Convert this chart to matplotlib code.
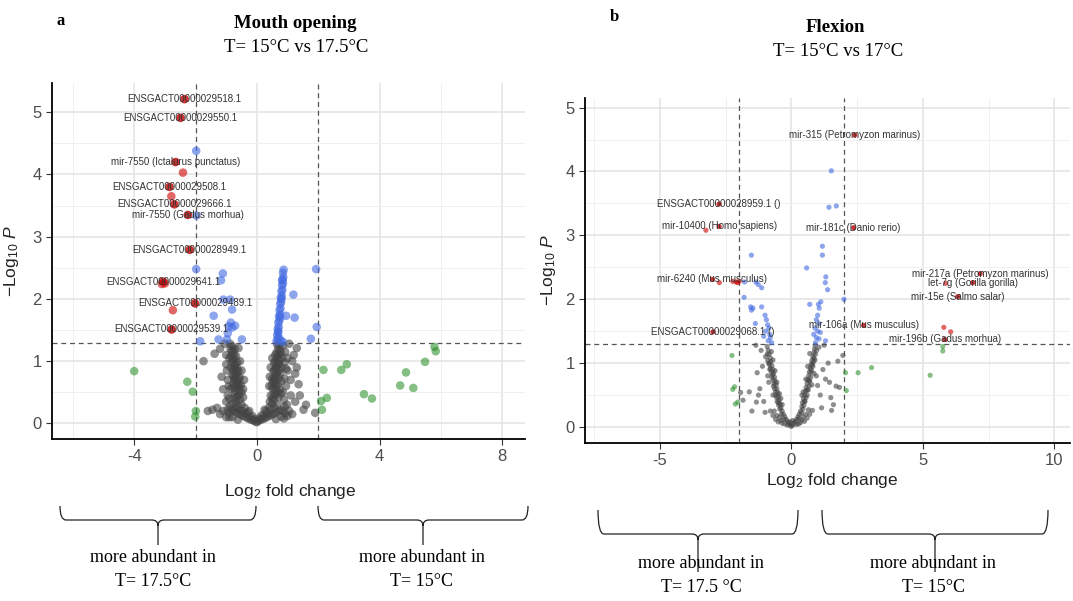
import matplotlib.pyplot as plt
from matplotlib.path import Path
from matplotlib.patches import PathPatch
from matplotlib.ticker import MultipleLocator

plt.rcParams['font.family'] = ['Liberation Sans', 'DejaVu Sans']
plt.rcParams['mathtext.fontset'] = 'custom'
plt.rcParams['mathtext.rm'] = 'Liberation Sans'
plt.rcParams['mathtext.it'] = 'Liberation Sans:italic'
plt.rcParams['axes.unicode_minus'] = False

# ---------------- panel a : mouth opening ----------------
a_grey = [(0.00, 0.02), (-0.05, 0.03), (0.05, 0.04), (-0.12, 0.05), (0.12, 0.06), (-0.2, 0.06), (0.2, 0.07),
          (-0.28, 0.08), (0.28, 0.09), (-0.36, 0.10), (0.36, 0.11), (-0.45, 0.12), (0.44, 0.13), (-0.52, 0.14),
          (0.52, 0.15), (-0.6, 0.16), (0.6, 0.17), (-0.68, 0.18), (0.68, 0.19), (-0.76, 0.2), (0.76, 0.21),
          (-0.84, 0.22), (0.84, 0.2), (-0.92, 0.17), (0.92, 0.16), (-0.15, 0.12), (0.15, 0.13), (-0.3, 0.18),
          (0.3, 0.2), (-0.4, 0.25), (0.4, 0.26), (-0.5, 0.3), (0.5, 0.32), (-0.62, 0.06), (0.62, 0.07),
          (-0.8, 0.1), (0.8, 0.11), (-0.25, 0.2), (0.25, 0.22),
          (-0.62, 0.28), (-0.58, 0.22), (-0.48, 0.2), (-0.38, 0.16), (-0.22, 0.1), (-0.08, 0.07), (0.08, 0.08),
          (0.22, 0.12), (0.34, 0.16), (0.46, 0.22), (0.58, 0.25), (0.66, 0.3), (-0.7, 0.25), (-0.78, 0.32),
          (-0.88, 0.28), (-0.95, 0.22), (0.9, 0.27), (0.98, 0.3), (-1.0, 0.1), (1.0, 0.12), (-1.1, 0.2),
          (1.15, 0.15), (-0.9, 0.1), (0.88, 0.08),
          (-0.55, 0.38), (-0.6, 0.45), (-0.58, 0.52), (-0.65, 0.58), (-0.62, 0.66), (-0.7, 0.72), (-0.66, 0.8),
          (-0.72, 0.88), (-0.7, 0.95), (-0.78, 1.02), (-0.74, 1.1), (-0.82, 1.16), (-0.8, 1.24), (-0.5, 0.5),
          (-0.52, 0.62), (-0.56, 0.74), (-0.6, 0.84), (-0.64, 0.98), (-0.68, 1.08), (-0.72, 1.2), (-0.88, 1.28),
          (-0.85, 0.9), (-0.8, 0.78), (-0.76, 0.64), (-0.72, 0.48), (-0.68, 0.35), (-0.9, 1.05), (-0.95, 0.7),
          (-0.45, 0.42), (-0.86, 0.56),
          (-0.66, 0.42), (-0.74, 0.4), (-0.7, 0.52), (-0.78, 0.58), (-0.66, 0.62), (-0.74, 0.7), (-0.68, 0.68),
          (-0.76, 0.76), (-0.7, 0.8), (-0.78, 0.86), (-0.74, 0.92), (-0.82, 0.98), (-0.76, 1.04), (-0.84, 1.08),
          (-0.78, 1.16), (-0.86, 1.2), (-0.58, 0.6), (-0.6, 0.72), (-0.64, 0.88),
          (-0.45, 0.55), (-0.42, 0.7), (-0.5, 0.85), (-0.55, 1.0), (-0.9, 0.4), (-0.92, 0.6), (-0.98, 0.85),
          (-1.0, 0.95),
          (0.5, 0.4), (0.55, 0.48), (0.52, 0.56), (0.6, 0.62), (0.56, 0.7), (0.62, 0.78), (0.58, 0.86),
          (0.65, 0.92), (0.6, 1.0), (0.68, 1.06), (0.64, 1.14), (0.7, 1.2), (0.66, 1.27), (0.45, 0.45),
          (0.48, 0.6), (0.5, 0.72), (0.54, 0.84), (0.56, 0.98), (0.6, 1.1), (0.72, 0.95), (0.76, 0.8),
          (0.78, 1.12), (0.8, 0.68), (0.74, 0.55), (0.7, 0.42), (0.85, 1.25), (0.9, 0.98), (0.95, 0.6),
          (0.42, 0.35), (0.88, 0.38),
          (0.6, 0.45), (0.66, 0.5), (0.62, 0.55), (0.68, 0.62), (0.64, 0.68), (0.7, 0.74), (0.66, 0.82),
          (0.72, 0.86), (0.68, 0.96), (0.74, 1.02), (0.7, 1.1), (0.76, 1.16), (0.74, 1.25), (0.58, 0.74),
          (0.62, 0.9), (0.52, 0.66), (0.8, 0.9), (0.82, 1.05), (0.55, 0.38), (0.78, 0.48),
          (0.4, 0.6), (0.42, 0.75), (0.45, 0.9), (0.5, 1.05), (0.85, 0.5), (0.9, 0.72), (0.95, 0.88),
          (1.0, 1.05), (0.92, 1.15),
          (-1.74, 1.0), (-1.38, 1.12), (-1.05, 1.28), (-0.6, 1.21), (-1.2, 1.2), (-1.0, 1.1), (-1.1, 0.55),
          (-1.15, 0.75), (-1.3, 0.25), (-1.45, 0.22), (-1.2, 0.15), (-1.0, 0.35), (-0.95, 0.45), (-1.6, 0.2),
          (1.3, 1.21), (1.05, 1.28), (1.2, 1.1), (1.36, 0.63), (1.3, 0.9), (1.25, 0.8), (1.52, 0.22),
          (1.9, 0.17), (1.25, 0.35), (1.1, 0.45), (1.4, 0.45), (1.0, 0.85), (1.1, 0.7), (1.15, 1.0),
          (1.6, 0.3), (1.05, 0.2)]
a_green = [(-4.0, 0.84), (-2.27, 0.67), (-2.09, 0.51), (-1.99, 0.20), (-2.01, 0.11), (2.17, 0.86),
           (2.75, 0.86), (2.93, 0.95), (2.28, 0.41), (2.09, 0.36), (2.12, 0.22), (3.49, 0.47), (3.75, 0.40),
           (4.67, 0.61), (5.10, 0.57), (4.86, 0.82), (5.48, 0.99), (5.79, 1.23), (5.83, 1.16)]
a_blue = [(-1.98, 4.38), (-1.97, 3.34), (-1.98, 2.48), (-1.11, 2.41), (-1.17, 2.30), (-1.41, 1.73),
          (-0.87, 1.99), (-1.09, 1.99), (-0.81, 1.83), (-0.92, 1.56), (-0.81, 1.54), (-0.71, 1.57),
          (-1.25, 1.35), (-0.98, 1.35), (-0.49, 1.35), (-1.85, 1.32), (-0.95, 1.45), (-0.85, 1.62),
          (0.87, 2.47), (0.85, 2.42), (0.86, 2.35), (0.84, 2.31), (0.85, 2.25), (0.82, 2.22), (0.83, 2.15),
          (0.80, 2.12), (0.81, 2.05), (0.78, 2.02), (0.79, 1.95), (0.76, 1.92), (0.77, 1.85), (0.74, 1.82),
          (0.75, 1.75), (0.72, 1.72), (0.73, 1.65), (0.70, 1.62), (0.71, 1.55), (0.68, 1.52), (0.69, 1.46),
          (0.66, 1.42), (0.67, 1.36), (0.64, 1.32), (0.78, 1.33), (0.72, 1.38), (0.82, 2.3), (0.8, 2.0),
          (0.76, 1.7), (0.7, 1.48), (0.95, 1.73), (1.19, 2.07), (1.23, 1.70), (1.93, 2.48), (1.95, 1.55),
          (1.76, 1.36), (0.85, 1.31)]
a_red = [(-2.41, 4.03), (-2.79, 3.65), (-3.0, 2.25), (-3.1, 2.24), (-2.74, 1.82)]
a_lab_x = [-2.36, -2.49, -2.65, -2.85, -2.69, -2.25, -2.19, -3.06, -2.02, -2.78]
a_lab_y = [5.21, 4.91, 4.2, 3.80, 3.52, 3.35, 2.79, 2.28, 1.93, 1.51]
a_labels = ['ENSGACT00000029518.1', 'ENSGACT00000029550.1', 'mir-7550 (Ictalurus punctatus)',
            'ENSGACT00000029508.1', 'ENSGACT00000029666.1', 'mir-7550 (Gadus morhua)',
            'ENSGACT00000028949.1', 'ENSGACT00000029641.1', 'ENSGACT00000029489.1',
            'ENSGACT00000029539.1']

# ---------------- panel b : flexion ----------------
b_grey = [(0, 0.01), (-0.05, 0.03), (0.05, 0.03), (-0.1, 0.06), (0.1, 0.06), (-0.15, 0.09), (0.15, 0.09),
          (-0.2, 0.12), (0.2, 0.12), (-0.25, 0.16), (0.25, 0.16), (-0.3, 0.2), (0.3, 0.2), (-0.35, 0.06),
          (0.35, 0.07), (-0.5, 0.08), (0.5, 0.09), (-0.6, 0.12), (0.6, 0.14), (-0.7, 0.18), (0.7, 0.2),
          (-0.45, 0.15), (0.45, 0.16), (-0.8, 0.25), (0.8, 0.26), (-0.15, 0.03), (0.2, 0.04),
          (-0.05, 0.08), (0.05, 0.1), (-0.25, 0.05), (0.28, 0.05), (-0.4, 0.1), (0.4, 0.11), (-0.55, 0.18),
          (0.55, 0.2), (-0.65, 0.25), (0.65, 0.27), (-0.3, 0.12), (0.3, 0.13),
          (-0.35, 0.25), (-0.4, 0.3), (-0.42, 0.36), (-0.46, 0.42), (-0.5, 0.48), (-0.52, 0.54), (-0.55, 0.6),
          (-0.58, 0.66), (-0.62, 0.72), (-0.64, 0.78), (-0.68, 0.84), (-0.7, 0.9), (-0.74, 0.96), (-0.78, 1.02),
          (-0.8, 1.08), (-0.84, 1.14), (-0.88, 1.2), (-0.92, 1.26), (-0.5, 0.38), (-0.6, 0.55), (-0.66, 0.68),
          (-0.72, 0.82), (-0.8, 0.92), (-0.86, 1.0), (-0.45, 0.52), (-0.55, 0.7), (-0.62, 0.88), (-0.7, 1.05),
          (-0.76, 1.18), (-0.98, 1.1), (-0.9, 0.8), (-0.4, 0.45), (-0.35, 0.35),
          (-0.38, 0.2), (-0.44, 0.28), (-0.48, 0.34), (-0.54, 0.4), (-0.56, 0.46), (-0.6, 0.5), (-0.64, 0.6),
          (-0.68, 0.64), (-0.7, 0.74), (-0.74, 0.78), (-0.76, 0.86), (-0.82, 0.9), (-0.84, 0.98), (-0.9, 1.04),
          (-0.92, 1.14), (-0.86, 0.7), (-0.7, 0.5),
          (0.35, 0.25), (0.4, 0.32), (0.42, 0.38), (0.46, 0.44), (0.5, 0.5), (0.54, 0.56), (0.56, 0.62),
          (0.6, 0.68), (0.62, 0.74), (0.66, 0.8), (0.68, 0.86), (0.72, 0.92), (0.75, 0.98), (0.78, 1.04),
          (0.82, 1.1), (0.85, 1.16), (0.88, 1.22), (0.9, 1.28), (0.5, 0.4), (0.6, 0.58), (0.68, 0.72),
          (0.75, 0.86), (0.82, 0.95), (0.9, 1.05), (0.45, 0.55), (0.55, 0.75), (0.62, 0.95), (0.7, 1.15),
          (0.95, 0.8), (1.0, 0.65), (0.4, 0.5),
          (0.38, 0.22), (0.44, 0.28), (0.48, 0.34), (0.52, 0.4), (0.56, 0.46), (0.6, 0.5), (0.64, 0.58),
          (0.68, 0.64), (0.7, 0.72), (0.74, 0.78), (0.76, 0.9), (0.8, 0.98), (0.84, 1.02), (0.86, 1.08),
          (0.92, 1.14), (0.96, 1.2), (0.78, 0.66), (0.86, 0.84),
          (-1.33, 0.39), (-1.0, 0.23), (-1.93, 0.54), (-1.84, 0.42), (-1.3, 0.85), (-1.2, 0.6), (-1.5, 0.25),
          (-1.1, 0.95), (-1.15, 1.2), (-1.35, 1.28), (-1.25, 0.5), (-1.05, 0.4), (-1.6, 0.55), (1.96, 1.12),
          (1.77, 1.03), (1.7, 0.64), (1.83, 0.62), (1.5, 0.46), (1.53, 0.26), (1.3, 0.75), (1.2, 0.9),
          (1.05, 1.25), (1.6, 0.35), (1.1, 0.5), (1.4, 1.0), (1.25, 1.28), (1.15, 0.3), (1.45, 0.7)]
b_green = [(-2.26, 1.12), (-2.23, 0.59), (-2.16, 0.63), (-2.13, 0.36), (-2.04, 0.39), (2.06, 0.85),
           (2.09, 0.57), (2.54, 0.85), (3.05, 0.93), (5.28, 0.81), (5.76, 1.26), (5.76, 1.19)]
b_blue = [(-1.52, 2.69), (-1.78, 2.27), (-1.35, 2.27), (-1.26, 2.23), (-1.13, 2.18), (-1.80, 2.03),
          (-1.55, 1.88), (-1.46, 1.86), (-1.52, 1.83), (-1.13, 1.88), (-1.37, 1.62), (-1.0, 1.75),
          (-0.95, 1.68), (-0.9, 1.6), (-0.85, 1.55), (-0.98, 1.5), (-0.82, 1.45), (-0.8, 1.4),
          (-0.88, 1.35), (-0.75, 1.32), (-1.05, 1.42),
          (0.58, 2.49), (1.52, 4.01), (1.43, 3.44), (1.71, 3.46), (1.18, 2.83), (1.18, 2.69), (1.31, 2.35),
          (1.29, 2.26), (1.38, 2.15), (0.70, 1.92), (1.03, 1.92), (1.12, 1.96), (1.06, 1.86), (1.0, 1.75),
          (0.95, 1.68), (1.05, 1.62), (0.9, 1.55), (1.0, 1.5), (1.1, 1.48), (0.85, 1.45), (0.95, 1.4),
          (1.05, 1.38), (1.3, 1.35), (0.92, 1.32), (2.0, 2.0)]
b_red = [(-3.25, 3.08), (-2.74, 2.26), (-2.23, 2.28), (-2.1, 2.27), (-1.98, 2.28), (-2.05, 2.26),
         (5.87, 2.25), (5.8, 1.56), (6.06, 1.49)]
b_lab_x = [2.41, -2.75, -2.75, 2.37, -3.0, 7.18, 6.9, 6.33, 2.75, -2.98, 5.84]
b_lab_y = [4.57, 3.49, 3.14, 3.12, 2.31, 2.40, 2.26, 2.04, 1.59, 1.49, 1.37]
b_labels = ['mir-315 (Petromyzon marinus)', 'ENSGACT00000028959.1 ()', 'mir-10400 (Homo sapiens)',
            'mir-181c (Danio rerio)', 'mir-6240 (Mus musculus)', 'mir-217a (Petromyzon marinus)',
            'let-7g (Gorilla gorilla)', 'mir-15e (Salmo salar)', 'mir-106a (Mus musculus)',
            'ENSGACT00000029068.1 ()', 'mir-196b (Gadus morhua)']

W, H = 1073, 601
fig = plt.figure(figsize=(W / 100, H / 100), dpi=100)


def fx(px):
    return px / W


def fy(py):
    return 1 - py / H


def volcano(ax, grey, green, blue, red, lx, ly, labels, s, xlim, ylim, xmaj):
    ax.set_xlim(*xlim)
    ax.set_ylim(*ylim)
    ax.xaxis.set_major_locator(MultipleLocator(xmaj))
    ax.xaxis.set_minor_locator(MultipleLocator(xmaj / 2))
    ax.yaxis.set_major_locator(MultipleLocator(1))
    ax.yaxis.set_minor_locator(MultipleLocator(0.5))
    ax.grid(which='major', color='#e3e3e3', lw=1.1)
    ax.grid(which='minor', color='#f0f0f0', lw=0.7)
    ax.set_axisbelow(True)
    for sp in ['top', 'right']:
        ax.spines[sp].set_visible(False)
    for sp in ['left', 'bottom']:
        ax.spines[sp].set_linewidth(1.3)
    ax.tick_params(which='major', length=4, color='#333333', labelcolor='#4d4d4d', labelsize=12)
    ax.tick_params(which='minor', length=0)
    for pts, col, al in [(grey, '#444444', 0.6), (green, '#228B22', 0.55),
                         (blue, '#4169E1', 0.6), (red, '#CD0000', 0.6)]:
        ax.scatter([p[0] for p in pts], [p[1] for p in pts], s=s, color=col, alpha=al,
                   edgecolors='none', zorder=3)
    ax.scatter(lx, ly, s=s, color='#C00000', alpha=0.8, edgecolors='none', zorder=3)
    for v in (-2, 2):
        ax.axvline(v, color='#555555', lw=0.9, ls=(0, (4, 3)), zorder=2)
    ax.axhline(1.3, color='#555555', lw=0.9, ls=(0, (4, 3)), zorder=2)
    for x, y, t in zip(lx, ly, labels):
        ax.text(x, y, t, ha='center', va='center', fontsize=7, color='#333333', zorder=4)
    ax.set_xlabel('Log$_2$ fold change', fontsize=12.5, color='#222222')
    ax.set_ylabel(r'$-\mathrm{Log}_{10}\ \mathit{P}$', fontsize=12.5, color='#222222')


axA = fig.add_axes([fx(52), fy(439), fx(525 - 52), fy(83) - fy(439)])
volcano(axA, a_grey, a_green, a_blue, a_red, a_lab_x, a_lab_y, a_labels, 38,
        (-6.68, 8.74), (-0.25, 5.47), 4)
axA.xaxis.set_label_coords(0.503, -0.12)
axA.yaxis.set_label_coords(-0.065, 0.5)

axB = fig.add_axes([fx(585), fy(443), fx(1070 - 585), fy(98) - fy(443)])
volcano(axB, b_grey, b_green, b_blue, b_red, b_lab_x, b_lab_y, b_labels, 14,
        (-7.85, 10.6), (-0.25, 5.15), 5)
axB.xaxis.set_label_coords(0.51, -0.08)
axB.yaxis.set_label_coords(-0.055, 0.5)

# titles
serif = 'Liberation Serif'
fig.text(fx(61), fy(21), 'a', fontsize=12, fontweight='bold', family=serif, ha='center', va='center')
fig.text(fx(295), fy(23), 'Mouth opening', fontsize=13.5, fontweight='bold', family=serif, ha='center', va='center')
fig.text(fx(296), fy(48), 'T= 15°C vs 17.5°C', fontsize=13.5, family=serif, ha='center', va='center')
fig.text(fx(614), fy(17), 'b', fontsize=12, fontweight='bold', family=serif, ha='center', va='center')
fig.text(fx(835), fy(27), 'Flexion', fontsize=13.5, fontweight='bold', family=serif, ha='center', va='center')
fig.text(fx(838), fy(52), 'T= 15°C vs 17°C', fontsize=13.5, family=serif, ha='center', va='center')

# braces underneath
ov = fig.add_axes([0, 0, 1, 1])
ov.set_xlim(0, W)
ov.set_ylim(H, 0)
ov.axis('off')


def brace(x0, x1, ytop, yh, ybot, r=6):
    xc = (x0 + x1) / 2
    verts = [(x0, ytop), (x0, yh), (x0 + r, yh),
             (xc - r, yh), (xc, yh), (xc, yh + r),
             (xc, ybot), (xc, yh + r), (xc, yh), (xc + r, yh),
             (x1 - r, yh), (x1, yh), (x1, ytop)]
    codes = [Path.MOVETO, Path.CURVE3, Path.CURVE3,
             Path.LINETO, Path.CURVE3, Path.CURVE3,
             Path.LINETO, Path.MOVETO, Path.CURVE3, Path.CURVE3,
             Path.LINETO, Path.CURVE3, Path.CURVE3]
    ov.add_patch(PathPatch(Path(verts, codes), fill=False, lw=0.9, color='#222222'))


brace(60, 256, 506, 520, 545)
brace(318, 528, 506, 520, 545)
brace(598, 798, 510, 534, 572)
brace(822, 1048, 510, 534, 572)

for cx, cy, t in [(153, 557, 'T= 17.5°C'), (422, 557, 'T= 15°C'),
                  (701, 563, 'T= 17.5 °C'), (933, 563, 'T= 15°C')]:
    ov.text(cx, cy, 'more abundant in', fontsize=13, family=serif, ha='center', va='center')
    ov.text(cx, cy + 25, t, fontsize=13, family=serif, ha='center', va='center')

fig.savefig('out.png', dpi=100)
